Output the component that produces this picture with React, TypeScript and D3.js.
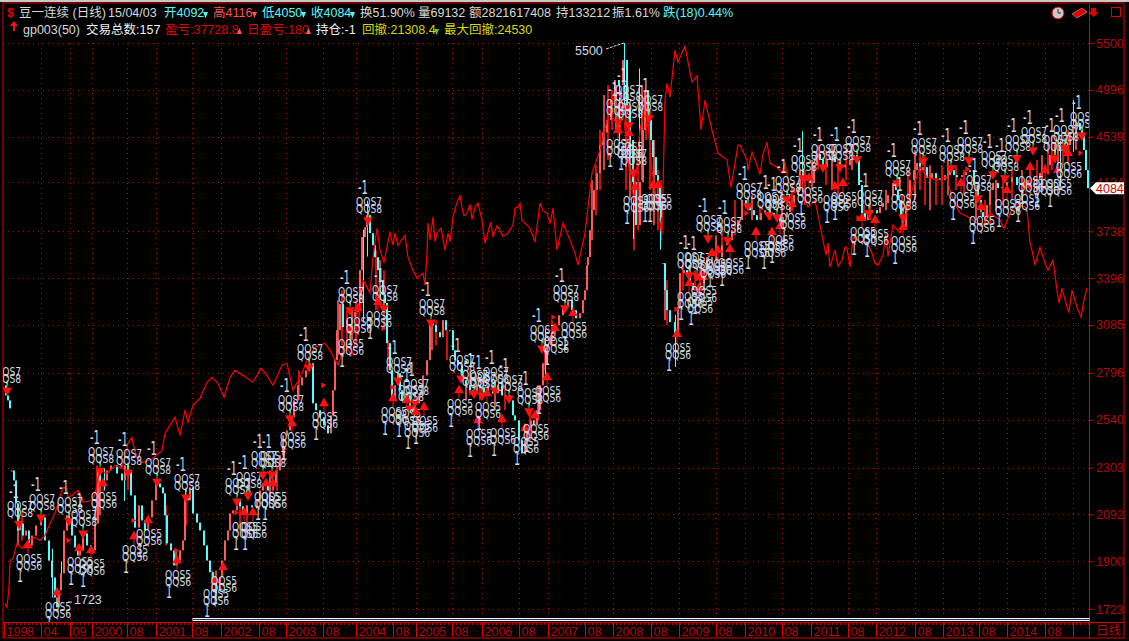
import {useEffect, useRef} from "react"
import * as d3 from "d3"

// chart is 1 bar slot per pixel, so a bar number reads straight across the plot
const plotWidth = 1089
const priceTicks = [5500, 4996, 4539, 4134, 3738, 3396, 3085, 2796, 2540, 2303, 2092, 1900, 1723]
const timeLabels = ["1998", "04", "09", "2000", "08", "2001", "08", "2002", "08", "2003", "08", "2004", "08", "2005", "08", "2006", "08", "2007", "08", "2008", "08", "2009", "08", "2010", "08", "2011", "08", "2012", "08", "2013", "08", "2014", "08", ""]
const timeBars = [4, 41, 70, 92, 127, 156, 192, 221, 259, 286, 323, 356, 393, 416, 452, 482, 519, 548, 585, 613, 651, 679, 716, 745, 782, 811, 848, 876, 915, 943, 979, 1007, 1045, 1073]

// contract rolls, no body drawn across these
const rollBars = [12, 663]

// [bar, close]
const closes: [number, number][] = [
  [4, 2726], [6, 2670], [8, 2643], [10, 2600], [12, 2289], [14, 2243], [16, 2140], [18, 2024], [20, 2053], [23, 2003], [26, 2024], [29, 1963], [32, 2003], [36, 2045], [41, 2079], [45, 1983], [49, 1903], [52, 1838], [55, 1764], [57, 1729], [59, 1790], [61, 1854], [64, 2024], [67, 2088], [69, 2066], [72, 2003], [75, 1955], [78, 1923], [80, 1943], [83, 2012], [87, 1963], [91, 1943], [95, 2053], [98, 2289], [100, 2243], [103, 2243], [107, 2289], [111, 2313], [117, 2275], [122, 2243], [125, 2313], [128, 2280], [131, 2175], [135, 2036], [139, 2131], [142, 2066], [145, 2024], [148, 2079], [152, 2153], [156, 2229], [160, 2211], [163, 2184], [165, 2088], [167, 1971], [171, 1943], [174, 1884], [177, 1903], [180, 1943], [183, 1983], [185, 2166], [188, 2153], [190, 2211], [193, 2096], [197, 2057], [200, 2024], [204, 1963], [207, 1903], [210, 1858], [213, 1816], [216, 1790], [220, 1838], [222, 1903], [225, 1983], [228, 2024], [230, 2096], [233, 2109], [237, 2153], [240, 2127], [243, 2096], [247, 2131], [252, 2122], [257, 2153], [260, 2197], [263, 2229], [268, 2197], [273, 2229], [276, 2289], [280, 2361], [283, 2460], [287, 2485], [290, 2553], [294, 2643], [298, 2726], [302, 2771], [306, 2811], [310, 2852], [313, 2627], [316, 2590], [320, 2553], [324, 2511], [328, 2470], [331, 2563], [333, 2698], [335, 2870], [337, 3052], [340, 3220], [343, 3071], [347, 3115], [352, 3134], [355, 3167], [358, 3200], [360, 3452], [362, 3694], [365, 3770], [367, 3864], [370, 3724], [373, 3633], [375, 3545], [378, 3452], [380, 3382], [383, 3280], [385, 3227], [387, 2972], [390, 2811], [392, 2659], [395, 2726], [398, 2794], [400, 2698], [402, 2643], [406, 2670], [410, 2606], [413, 2580], [415, 2627], [419, 2670], [423, 2782], [427, 2870], [430, 3115], [433, 3084], [436, 3040], [440, 3009], [443, 3115], [446, 3052], [450, 3052], [453, 2929], [455, 2870], [458, 2840], [462, 2754], [466, 2726], [470, 2698], [473, 2681], [477, 2726], [480, 2715], [484, 2670], [488, 2726], [493, 2681], [498, 2726], [502, 2670], [506, 2670], [510, 2643], [513, 2563], [515, 2537], [519, 2435], [522, 2370], [525, 2435], [527, 2500], [531, 2537], [534, 2511], [537, 2590], [540, 2726], [543, 2852], [547, 2959], [551, 3021], [555, 3084], [559, 3147], [563, 3200], [568, 3246], [572, 3180], [576, 3128], [580, 3160], [583, 3246], [585, 3313], [587, 3487], [588, 3545], [590, 3747], [592, 3904], [594, 4068], [597, 4212], [600, 4461], [603, 4578], [607, 4696], [611, 4893], [615, 5098], [619, 5045], [623, 5311], [627, 4822], [630, 4507], [633, 4135], [636, 3786], [640, 4135], [643, 4601], [645, 4994], [648, 4696], [651, 4507], [653, 4353], [656, 4195], [658, 4093], [660, 3944], [662, 3849], [663, 3502], [665, 3313], [667, 3180], [670, 3103], [675, 3034], [678, 3200], [680, 3431], [684, 3452], [687, 3431], [690, 3361], [693, 3313], [697, 3334], [700, 3361], [704, 3452], [707, 3545], [712, 3509], [717, 3545], [722, 3633], [727, 3671], [732, 3747], [738, 3825], [742, 3985], [746, 3928], [750, 3904], [754, 3864], [757, 3825], [761, 3880], [765, 3904], [770, 3880], [774, 3864], [777, 3849], [780, 3770], [783, 3849], [787, 3888], [790, 3928], [794, 4026], [798, 4068], [800, 4238], [803, 4178], [807, 4152], [810, 4127], [814, 4281], [817, 4380], [820, 4326], [823, 4264], [827, 4326], [830, 4353], [835, 4309], [840, 4264], [845, 4281], [850, 4326], [854, 4371], [857, 4326], [859, 4110], [862, 3880], [865, 3825], [868, 3880], [872, 3904], [877, 3880], [880, 3928], [883, 3961], [888, 4026], [893, 4127], [896, 4068], [898, 3985], [901, 3864], [903, 3770], [906, 3945], [910, 4152], [914, 4238], [917, 4300], [920, 4238], [923, 4264], [927, 4170], [932, 4212], [936, 4170], [940, 4152], [945, 4195], [950, 4238], [954, 4195], [957, 4178], [962, 4195], [966, 4221], [970, 4238], [974, 4110], [978, 3985], [981, 3888], [983, 3849], [987, 3945], [990, 4068], [993, 4127], [998, 4085], [1002, 4093], [1007, 4135], [1012, 4178], [1017, 4110], [1023, 4093], [1028, 4152], [1034, 4170], [1040, 4212], [1045, 4281], [1050, 4371], [1055, 4461], [1060, 4416], [1064, 4434], [1067, 4461], [1070, 4578], [1073, 4650], [1077, 4669], [1080, 4601], [1082, 4570], [1084, 4416], [1086, 4238], [1088, 4084],
]

// the long shadows that stand clear of the bodies: [bar, low, high]
const wicks: [number, number, number][] = [
  [624, 4800, 5500], [619, 4500, 5060], [639, 4300, 5220], [633, 3680, 4300], [675, 2830, 3150], [802, 4050, 4590], [1073, 4400, 4893], [660, 3600, 4050], [367, 3550, 3980], [545, 2780, 3060], [1060, 4100, 4500], [52, 1764, 1950], [61, 1820, 1900], [104, 2197, 2300], [124, 2150, 2300], [185, 2100, 2200], [363, 3100, 3750],
]

// thick clusters of rising days: [bar, low, high]
const upWicks: [number, number, number][] = [
  [18, 1963, 2131], [22, 1983, 2109], [97, 2066, 2313], [100, 2088, 2289], [128, 2197, 2313], [166, 1963, 2131], [176, 1884, 1943], [186, 2045, 2175], [212, 1790, 1865], [216, 1753, 1865], [240, 2024, 2153], [247, 2003, 2131], [270, 2153, 2289], [277, 2197, 2313], [299, 2643, 2811], [338, 2900, 3246], [342, 2959, 3313], [347, 2929, 3180], [352, 2990, 3180], [356, 2959, 3246], [376, 3180, 3596], [380, 3246, 3523], [384, 3052, 3452], [388, 2811, 2990], [432, 2929, 3115], [436, 2959, 3115], [447, 2870, 3052], [466, 2643, 2754], [470, 2670, 2811], [480, 2643, 2754], [495, 2590, 2754], [505, 2590, 2726], [530, 2435, 2590], [538, 2537, 2726], [545, 2811, 2929], [552, 2959, 3115], [592, 3671, 4152], [596, 3864, 4281], [600, 4068, 4601], [604, 4238, 4943], [608, 4326, 5045], [612, 4601, 4994], [616, 4601, 5045], [620, 4556, 4994], [626, 4068, 4793], [630, 3985, 4744], [634, 3596, 4238], [638, 3747, 4416], [642, 4152, 5045], [646, 4507, 4994], [650, 4068, 4793], [654, 3786, 4507], [658, 3747, 4238], [661, 3671, 4152], [665, 3115, 3382], [667, 3084, 3382], [683, 3313, 3523], [690, 3347, 3488], [695, 3313, 3452], [700, 3313, 3488], [716, 3523, 3709], [722, 3596, 3786], [735, 3709, 3985], [752, 3825, 4026], [760, 3825, 3945], [770, 3825, 3985], [782, 3786, 4068], [792, 3904, 4110], [805, 3945, 4238], [812, 4068, 4326], [818, 4238, 4461], [826, 4110, 4416], [832, 4068, 4461], [838, 4026, 4326], [846, 4152, 4416], [852, 4238, 4461], [864, 3825, 3945], [870, 3825, 4026], [886, 3904, 4068], [902, 3747, 4026], [908, 3904, 4238], [915, 3985, 4416], [920, 4068, 4416], [925, 3945, 4371], [930, 3904, 4281], [936, 3945, 4195], [942, 3945, 4281], [948, 4026, 4326], [956, 4068, 4281], [964, 4026, 4238], [976, 3825, 4110], [985, 3786, 3985], [990, 3786, 4026], [996, 3904, 4152], [1003, 3945, 4195], [1012, 3985, 4238], [1022, 3985, 4238], [1030, 4068, 4281], [1037, 4026, 4326], [1042, 4068, 4371], [1048, 4195, 4461], [1052, 4238, 4556], [1058, 4238, 4507], [1063, 4281, 4556], [1068, 4281, 4601], [1076, 4416, 4696],
]

// equity curve, drawn on the price axis: [bar, value]
const equity: [number, number][] = [
  [5, 1742], [7, 1729], [9, 1801], [10, 1903], [13, 1911], [17, 1971], [22, 1951], [28, 1983], [35, 1995], [40, 1983], [45, 2003], [50, 2053], [55, 2096], [58, 2140], [63, 2211], [67, 2206], [68, 2166], [72, 2175], [75, 2188], [78, 2197], [82, 2162], [83, 2144], [92, 2153], [95, 2184], [97, 2229], [100, 2289], [107, 2275], [115, 2313], [122, 2299], [128, 2420], [132, 2450], [133, 2420], [137, 2351], [143, 2327], [153, 2346], [162, 2385], [165, 2470], [173, 2537], [175, 2553], [180, 2460], [185, 2590], [188, 2527], [193, 2616], [200, 2654], [207, 2743], [212, 2771], [218, 2737], [224, 2660], [230, 2771], [235, 2811], [243, 2782], [253, 2743], [261, 2822], [267, 2782], [273, 2726], [282, 2840], [287, 2852], [293, 2698], [302, 2794], [307, 2870], [315, 2947], [320, 2959], [325, 2972], [330, 2929], [338, 2840], [345, 2959], [352, 2900], [358, 3052], [363, 3382], [365, 3361], [370, 3293], [373, 3545], [377, 3762], [380, 3596], [384, 3509], [387, 3618], [390, 3732], [393, 3633], [395, 3724], [398, 3633], [405, 3709], [408, 3545], [412, 3466], [417, 3396], [423, 3431], [425, 3347], [427, 3574], [428, 3802], [430, 3671], [433, 3850], [435, 3660], [437, 3724], [441, 3762], [445, 3596], [448, 3724], [450, 3660], [453, 3849], [456, 3940], [458, 3985], [460, 4020], [462, 3928], [464, 3860], [467, 3880], [470, 3950], [472, 3830], [475, 3928], [478, 3960], [482, 3825], [485, 3649], [489, 3762], [491, 3810], [493, 3694], [497, 3780], [500, 3747], [503, 3700], [508, 3724], [513, 3786], [515, 3920], [518, 3928], [520, 3960], [522, 3820], [525, 3802], [530, 3762], [535, 3656], [540, 3961], [543, 3900], [547, 3880], [550, 3800], [553, 3920], [557, 3596], [563, 3802], [570, 3671], [575, 3574], [578, 3487], [585, 3724], [592, 4212], [600, 4416], [607, 4696], [615, 4994], [622, 4893], [628, 4326], [634, 3985], [640, 4601], [646, 4893], [652, 4238], [658, 3904], [662, 3709], [665, 4893], [667, 5063], [670, 4923], [675, 5421], [678, 5290], [685, 5465], [688, 5290], [692, 5077], [697, 5141], [701, 4601], [705, 4893], [712, 4601], [718, 4389], [727, 4326], [731, 4093], [738, 4461], [740, 4461], [747, 4326], [748, 4238], [752, 4398], [757, 4281], [760, 4200], [763, 4380], [767, 4488], [770, 4300], [777, 4264], [782, 4212], [785, 4300], [788, 4152], [795, 4043], [802, 4127], [805, 4000], [808, 3928], [815, 3985], [823, 3671], [826, 3560], [828, 3650], [830, 3473], [835, 3596], [838, 3480], [842, 3523], [845, 3620], [847, 3611], [850, 3473], [853, 3694], [858, 3671], [868, 3640], [872, 3574], [875, 3500], [878, 3487], [883, 3560], [886, 3720], [888, 3550], [890, 3649], [893, 3786], [900, 3724], [907, 3880], [912, 4068], [920, 4264], [927, 4178], [937, 4152], [947, 4178], [950, 4068], [953, 3985], [960, 3880], [970, 3841], [982, 3770], [990, 3880], [1000, 3825], [1004, 3760], [1010, 3880], [1015, 3950], [1020, 3945], [1027, 3920], [1030, 3649], [1032, 3596], [1035, 3487], [1040, 3618], [1045, 3502], [1048, 3452], [1053, 3523], [1057, 3313], [1059, 3227], [1062, 3327], [1067, 3200], [1069, 3167], [1072, 3313], [1077, 3200], [1081, 3135], [1084, 3246], [1087, 3327],
]

// [bar, price] of each signal
const sells: [number, number][] = [
  [7, 2698], [19, 2053], [41, 2079], [69, 2066], [83, 2012], [100, 2289], [128, 2280], [157, 2238], [186, 2166], [237, 2149], [248, 2175], [263, 2271], [272, 2271], [290, 2548], [309, 2828], [350, 3180], [368, 3825], [384, 3193], [398, 2754], [415, 2632], [410, 2600], [431, 3102], [461, 2765], [474, 2681], [482, 2670], [495, 2698], [509, 2654], [529, 2585], [542, 2941], [565, 3193], [618, 4677], [627, 4812], [629, 4649], [633, 4221], [649, 4715], [689, 3417], [697, 3410], [708, 3686], [728, 3671], [748, 3936], [769, 3864], [777, 3849], [787, 3993], [803, 4170], [823, 4264], [840, 4264], [857, 4335], [869, 3880], [897, 4127], [903, 3849], [923, 4317], [951, 4255], [969, 4326], [978, 4001], [993, 4204], [1005, 4170], [1017, 4344], [1033, 4416], [1055, 4344], [1065, 4434], [1082, 4552],
]
const buys: [number, number][] = [
  [28, 1963], [57, 1782], [79, 1951], [91, 1943], [103, 2229], [134, 2000], [148, 2066], [177, 1903], [215, 1827], [223, 1877], [244, 2100], [253, 2100], [266, 2229], [273, 2229], [292, 2521], [324, 2627], [350, 3052], [358, 3193], [378, 3233], [393, 2654], [407, 2643], [416, 2580], [424, 2606], [459, 2698], [478, 2537], [487, 2681], [502, 2542], [525, 2495], [535, 2563], [547, 2771], [555, 3065], [573, 3160], [618, 4601], [629, 4572], [635, 4093], [653, 4110], [658, 4110], [677, 3028], [689, 3361], [699, 3327], [703, 3403], [712, 3574], [718, 3596], [730, 3603], [756, 3732], [772, 3732], [780, 3778], [792, 3953], [809, 4170], [835, 4101], [843, 4127], [862, 3841], [875, 3825], [903, 3770], [961, 4127], [981, 3928], [1007, 4068], [1026, 4110], [1030, 4264], [1045, 4238], [1058, 4238], [1068, 4389],
]
// small side flags
const flags: [number, number][] = [
  [68, 1983], [133, 2066], [176, 1943], [236, 2100], [323, 2726], [383, 3065], [392, 2715], [553, 3134], [647, 4649], [676, 3187], [746, 3880], [858, 3841], [967, 4247], [1080, 4389],
]

const highMark = {bar: 624, price: 5500}
const lowMark = {bar: 57, price: 1723}
const lastClose = 4084
const selectionStart = 193

const red = "#e00000"
const dim = "#b40808"
const cyan = "#54fcfc"
const salmon = "#ff5a5a"
const pale = "#cfdae6"
const sans = "'Liberation Sans','Noto Sans CJK SC',sans-serif"

const x = d3.scaleLinear().domain([0, plotWidth]).range([0, plotWidth])
const y = d3.scaleLog().domain([1723, 5500]).range([609, 43])

export default function App() {
  const ref = useRef<SVGSVGElement>(null)

  useEffect(() => {
    const svg = d3.select(ref.current)
    svg.selectAll(".chart").remove()
    const root = svg.append("g").attr("class", "chart")

    /**
     * Dotted grid
     */
    const grid = root.append("g").attr("stroke", "#b01010").attr("stroke-dasharray", "1 4")
    grid
      .selectAll("line.h")
      .data(priceTicks)
      .join("line")
      .attr("class", "h")
      .attr("x1", 3)
      .attr("x2", x(plotWidth))
      .attr("y1", (d) => Math.round(y(d)) + 0.5)
      .attr("y2", (d) => Math.round(y(d)) + 0.5)
    grid
      .selectAll("line.v")
      .data(timeBars.slice(1))
      .join("line")
      .attr("class", "v")
      .attr("x1", (d) => x(d) + 0.5)
      .attr("x2", (d) => x(d) + 0.5)
      .attr("y1", y(5500))
      .attr("y2", 622)

    /**
     * Candles, open taken from the previous close
     */
    const candles = root.append("g").attr("clip-path", "url(#plot)")
    candles
      .selectAll("line.up")
      .data(upWicks)
      .join("line")
      .attr("class", "up")
      .attr("x1", (d) => x(d[0]))
      .attr("x2", (d) => x(d[0]))
      .attr("y1", (d) => y(d[1]))
      .attr("y2", (d) => y(d[2]))
      .attr("stroke", (_, i) => (i % 3 == 0 ? salmon : "#ff1414"))
      .attr("stroke-width", 1.6)
    candles
      .selectAll("line.down")
      .data(wicks)
      .join("line")
      .attr("class", "down")
      .attr("x1", (d) => x(d[0]) + 0.5)
      .attr("x2", (d) => x(d[0]) + 0.5)
      .attr("y1", (d) => y(d[1]))
      .attr("y2", (d) => y(d[2]))
      .attr("stroke", cyan)
    const bodies = closes.slice(1).map((d, i) => {
      const open = closes[i][1]
      return {bar: d[0], open: rollBars.includes(d[0]) ? d[1] : open, close: d[1]}
    })
    candles
      .selectAll("rect")
      .data(bodies)
      .join("rect")
      .attr("x", (d) => x(d.bar) - 1)
      .attr("width", 2)
      .attr("y", (d) => y(Math.max(d.open, d.close)))
      .attr("height", (d) => Math.max(1, Math.abs(y(d.open) - y(d.close))))
      .attr("fill", (d) => (d.close >= d.open ? salmon : cyan))

    /**
     * Equity curve
     */
    const line = d3
      .line<[number, number]>()
      .x((d) => x(d[0]))
      .y((d) => y(d[1]))
    root
      .append("path")
      .attr("d", line(equity))
      .attr("fill", "none")
      .attr("stroke", "#ff0000")
      .attr("stroke-width", 1.2)

    /**
     * Signals
     */
    const marks = root.append("g").attr("clip-path", "url(#plot)")
    const arrow = d3.symbol(d3.symbolTriangle, 42)()
    marks
      .selectAll("path.flag")
      .data(flags)
      .join("path")
      .attr("class", "flag")
      .attr("d", d3.symbol(d3.symbolTriangle, 14)())
      .attr("transform", (d) => `translate(${x(d[0])},${y(d[1])}) rotate(90)`)
      .attr("fill", "#ff1010")
    const sellG = marks
      .selectAll("g.sell")
      .data(sells)
      .join("g")
      .attr("class", "sell")
      .attr("transform", (d) => `translate(${x(d[0])},${y(d[1])})`)
    sellG.append("line").attr("y1", -10).attr("y2", -3).attr("stroke", "#30e030")
    sellG.append("path").attr("d", arrow).attr("transform", "rotate(180)").attr("fill", "#ff1010")
    const buyG = marks
      .selectAll("g.buy")
      .data(buys)
      .join("g")
      .attr("class", "buy")
      .attr("transform", (d) => `translate(${x(d[0])},${y(d[1])})`)
    buyG.append("line").attr("y1", 2).attr("y2", 9).attr("stroke", "#ff1010")
    buyG.append("path").attr("d", arrow).attr("fill", "#ff1010")

    const label = (g, text: string, dx: number, dy: number, size: number, width: number) =>
      g
        .append("text")
        .text(text)
        .attr("x", dx)
        .attr("y", dy)
        .attr("font-size", size)
        .attr("textLength", width)
        .attr("lengthAdjust", "spacingAndGlyphs")
        .attr("font-family", "'DejaVu Sans',sans-serif")
        .attr("fill", pale)
    // the first signal's -1 falls off the left edge of the plot
    label(sellG.filter((d) => x(d[0]) > 10), "-1", -10, -26, 19, 10)
    label(sellG, "QQS7", -12, -14, 12.5, 26)
    label(sellG, "QQS8", -12, -7, 12.5, 26)
    label(buyG, "QQS5", -12, 18, 12.5, 26)
    label(buyG, "QQS6", -12, 25, 12.5, 26)
    label(buyG, "1", -11, 37, 19, 6)

    /**
     * Extremes
     */
    const notes = root.append("g").attr("font-family", sans).attr("font-size", 12.5).attr("fill", pale)
    notes
      .append("text")
      .text(highMark.price)
      .attr("x", x(highMark.bar) - 49)
      .attr("y", y(highMark.price) + 12)
    notes
      .append("line")
      .attr("x1", x(highMark.bar) - 18)
      .attr("y1", y(highMark.price) + 6)
      .attr("x2", x(highMark.bar))
      .attr("y2", y(highMark.price))
      .attr("stroke", pale)
      .attr("stroke-dasharray", "3 1")
    notes
      .append("text")
      .text(lowMark.price)
      .attr("x", x(lowMark.bar) + 17)
      .attr("y", y(lowMark.price) - 5)
    notes
      .append("line")
      .attr("x1", x(lowMark.bar) + 11)
      .attr("y1", y(lowMark.price) - 7)
      .attr("x2", x(lowMark.bar) + 15)
      .attr("y2", y(lowMark.price) - 7)
      .attr("stroke", pale)

    /**
     * Selection strip under the plot
     */
    root
      .append("rect")
      .attr("x", x(selectionStart))
      .attr("y", 618.5)
      .attr("width", x(plotWidth) - x(selectionStart))
      .attr("height", 2)
      .attr("fill", "#20306a")
      .attr("stroke", "#ffffff")

    /**
     * Axes
     */
    const yAxis = root
      .append("g")
      .attr("transform", `translate(${x(plotWidth)},0)`)
      .call(d3.axisRight(y).tickValues(priceTicks).tickFormat(d3.format("d")).tickSize(5).tickPadding(2))
    yAxis.select(".domain").remove()
    yAxis.selectAll("line").attr("stroke", dim)
    yAxis.selectAll("text").attr("fill", dim).attr("font-size", 12.5).attr("font-family", sans)

    const minor = root
      .append("g")
      .attr("transform", "translate(0,622)")
      .call(d3.axisBottom(x).tickValues(d3.range(4, plotWidth, 4)).tickFormat(() => "").tickSize(3))
    minor.select(".domain").remove()
    minor.selectAll("line").attr("stroke", dim)

    const xAxis = root
      .append("g")
      .attr("transform", "translate(0,622)")
      .call(
        d3
          .axisBottom(x)
          .tickValues(timeBars)
          .tickFormat((_, i) => timeLabels[i])
          .tickSize(15)
      )
    xAxis.select(".domain").remove()
    xAxis.selectAll("line").attr("stroke", red)
    xAxis
      .selectAll("text")
      .attr("fill", dim)
      .attr("font-size", 12.5)
      .attr("font-family", sans)
      .attr("text-anchor", "start")
      .attr("x", 2)
      .attr("y", 5)

    /**
     * Last close tag
     */
    const tagY = y(lastClose)
    const tag = root.append("g").attr("transform", `translate(${x(plotWidth)},${tagY})`)
    tag.append("path").attr("d", "M1,0L7,-6H35V6H7Z").attr("fill", "#fff")
    tag
      .append("text")
      .text(lastClose)
      .attr("x", 7)
      .attr("y", 4.5)
      .attr("font-size", 12.5)
      .attr("font-family", sans)
      .attr("fill", red)
  }, [])

  return (
    <svg
      ref={ref}
      width={1129}
      height={641}
      style={{position: "absolute", left: 0, top: 0, background: "#000", display: "block"}}
    >
      <defs>
        <clipPath id="plot">
          <rect x={3} y={36} width={plotWidth - 3} height={586} />
        </clipPath>
      </defs>

      {/* frame */}
      <rect x={0} y={0} width={1129} height={2} fill="#c8c8c8" />
      <rect x={3} y={3} width={1121} height={635} fill="none" stroke={red} />
      <line x1={3} x2={1124} y1={622.5} y2={622.5} stroke={red} />
      <line x1={1089.5} x2={1089.5} y1={3} y2={638} stroke={red} />

      {/* header, first row */}
      <g fontFamily={sans} fontSize={12.5}>
        <text x={7} y={17} fill={red} fontWeight="bold">$</text>
        <text x={19} y={17} fill="#d8d8d8">豆一连续 (日线)</text>
        <text x={108} y={17} fill="#d8d8d8">15/04/03</text>
        <text x={164} y={17} fill={cyan}>开4092</text>
        <path d="M203,12h5l-2.5,6z" fill={cyan} />
        <text x={213} y={17} fill="#ff5050">高4116</text>
        <path d="M252,12h5l-2.5,6z" fill="#ff5050" />
        <text x={262} y={17} fill={cyan}>低4050</text>
        <path d="M301,12h5l-2.5,6z" fill={cyan} />
        <text x={311} y={17} fill={cyan}>收4084</text>
        <path d="M350,12h5l-2.5,6z" fill={cyan} />
        <text x={360} y={17} fill="#d8d8d8">换51.90%</text>
        <text x={418} y={17} fill="#d8d8d8">量69132</text>
        <text x={469} y={17} fill="#d8d8d8">额2821617408</text>
        <text x={556} y={17} fill="#d8d8d8">持133212</text>
        <text x={612} y={17} fill="#d8d8d8">振1.61%</text>
        <text x={663} y={17} fill={cyan}>跌(18)0.44%</text>

        {/* header, second row */}
        <path d="M10,26l4,-5l4,5h-3v5h-2v-5z" fill="#ff1010" />
        <text x={23} y={34} fill="#d8d8d8">gp003(50)</text>
        <text x={86} y={34} fill="#f0f0f0">交易总数:157</text>
        <text x={165} y={34} fill="#e00000">盈亏:37728.8</text>
        <path d="M237,34h5l-2.5,-6z" fill={salmon} />
        <text x={247} y={34} fill="#e00000">日盈亏:180</text>
        <path d="M306,34h5l-2.5,-6z" fill={salmon} />
        <text x={316} y={34} fill="#f0f0f0">持仓:-1</text>
        <text x={362} y={34} fill="#d8d800">回撤:21308.4</text>
        <path d="M434,29h5l-2.5,6z" fill="#30e030" />
        <text x={444} y={34} fill="#d8d800">最大回撤:24530</text>
      </g>

      {/* toolbar icons */}
      <circle cx={1058} cy={13} r={6} fill="#c8c8c8" stroke={red} />
      <path d="M1058,9v4h3" fill="none" stroke="#333" />
      <path d="M1072,14l10,-6l5,4l-10,6z" fill={red} stroke="#ffb0b0" strokeWidth={0.5} />
      <path d="M1091,8h5v4h3l-5.5,5l-5.5,-5h3z" fill={red} />
      <rect x={1111.5} y={7.5} width={9} height={9} fill="none" stroke={red} />

      {/* period label */}
      <text x={1096} y={635} fontFamily={sans} fontSize={12.5} fill={dim}>日线</text>
    </svg>
  )
}
